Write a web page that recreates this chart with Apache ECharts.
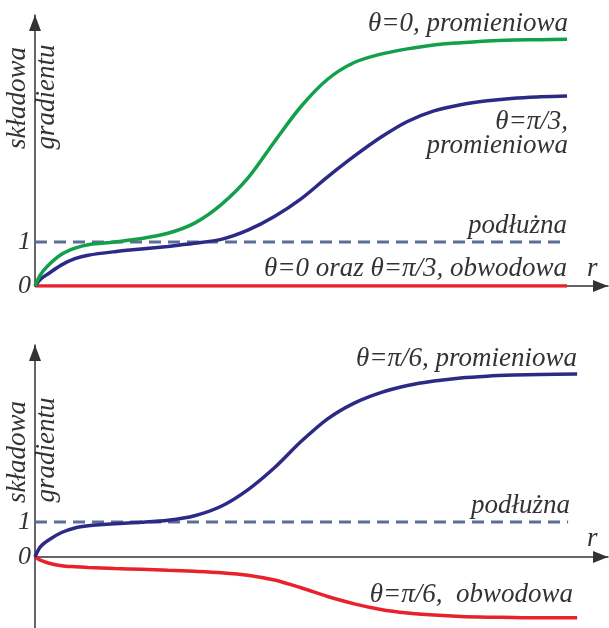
<!DOCTYPE html>
<html>
<head>
<meta charset="utf-8">
<script src="https://cdn.jsdelivr.net/npm/echarts@6/dist/echarts.min.js"></script>
<style>
html,body{margin:0;padding:0;background:#fff;}
#c{width:609px;height:628px;}
</style>
</head>
<body>
<div id="c"></div>
<script>
// ---- data ----
const rTop      = [0, 0.1, 0.25, 0.5, 0.75, 1, 1.5, 2, 2.5, 3, 3.5, 4, 4.5, 5, 5.5, 6, 6.5, 7, 7.5, 8, 8.5, 9, 9.5, 10];
const greenTop  = [0, 0.25, 0.47, 0.72, 0.86, 0.94, 1.00, 1.08, 1.20, 1.43, 1.85, 2.45, 3.28, 4.08, 4.70, 5.08, 5.27, 5.39, 5.48, 5.53, 5.57, 5.59, 5.60, 5.61];
const blueTop   = [0, 0.15, 0.28, 0.48, 0.62, 0.70, 0.78, 0.84, 0.90, 0.97, 1.06, 1.27, 1.58, 1.98, 2.48, 2.95, 3.38, 3.74, 3.98, 4.12, 4.21, 4.27, 4.30, 4.32];
const rRedTop   = [0, 10];
const redTop    = [0, 0];

const rBot      = [0, 0.1, 0.25, 0.5, 0.75, 1, 1.5, 2, 2.5, 3, 3.5, 4, 4.5, 5, 5.5, 6, 6.5, 7, 7.5, 8, 8.5, 9, 9.5, 10.19];
const blueBot   = [0, 0.29, 0.48, 0.70, 0.83, 0.89, 0.95, 0.99, 1.05, 1.18, 1.45, 1.92, 2.55, 3.30, 3.95, 4.40, 4.70, 4.90, 5.03, 5.12, 5.17, 5.20, 5.22, 5.23];
const redBot    = [0, -0.09, -0.17, -0.25, -0.28, -0.30, -0.33, -0.35, -0.38, -0.41, -0.45, -0.52, -0.66, -0.88, -1.13, -1.34, -1.50, -1.60, -1.66, -1.70, -1.72, -1.73, -1.74, -1.74];

const rDashTop  = [0, 10];
const rDashBot  = [0, 10.02];
const longitudinal = [1, 1];

const yTickValues = [0, 1];
const yTickLabels = ['0', '1'];

// ---- labels ----
const labelsTop = ['θ=0, promieniowa', 'θ=π/3,', 'promieniowa', 'podłużna', 'θ=0 oraz θ=π/3, obwodowa'];
const labelsBot = ['θ=π/6, promieniowa', 'podłużna', 'θ=π/6,  obwodowa'];
const axisTitle = ['składowa', 'gradientu'];
const xName = 'r';

const pairs = (xs, ys) => xs.map((x, i) => [x, ys[i]]);

const FONT = '"Liberation Serif", "Times New Roman", serif';
const FS = 27;
const TXT = '#333';
const AX = '#333';

function xAxisCfg(gi) {
  return {
    type: 'value', gridIndex: gi, min: 0, max: 10.77,
    axisLine: { show: true, onZero: true, lineStyle: { color: AX, width: 1.5 },
      symbol: ['none', 'triangle'], symbolSize: [12, 15], symbolOffset: [0, -7.5] },
    axisTick: { show: false }, axisLabel: { show: false }, splitLine: { show: false }
  };
}
function yAxisCfg(gi, min, max) {
  return {
    type: 'value', gridIndex: gi, min: min, max: max,
    axisLine: { show: true, onZero: true, lineStyle: { color: AX, width: 1.5 },
      symbol: ['none', 'triangle'], symbolSize: [12, 16], symbolOffset: [0, -8] },
    axisTick: { show: false },
    axisLabel: {
      show: true, customValues: yTickValues, margin: 4,
      formatter: v => { const i = yTickValues.indexOf(v); return i >= 0 ? yTickLabels[i] : ''; },
      fontFamily: FONT, fontStyle: 'italic', fontSize: 26, color: TXT
    },
    splitLine: { show: false }
  };
}
function line(xi, data, color, width, dash) {
  return {
    type: 'line', xAxisIndex: xi, yAxisIndex: xi, data: data, symbol: 'none',
    smooth: dash ? false : 0.3, silent: true,
    lineStyle: { color: color, width: width, type: dash || 'solid' }, z: dash ? 3 : 4
  };
}
function txt(s, x, y, align, rot) {
  return {
    type: 'text', x: x, y: y, rotation: rot || 0, silent: true,
    style: { text: s, fill: TXT, fontFamily: FONT, fontSize: FS, fontStyle: 'italic',
      align: align || 'right', verticalAlign: 'middle' }
  };
}

const GREEN = '#13a04a', BLUE = '#2c2a86', RED = '#e8212b', DASH = '#5a6e96';

const option = {
  animation: false,
  backgroundColor: '#fff',
  grid: [
    { left: 35, right: 1, top: 15, height: 271 },
    { left: 35, right: 1, top: 345, height: 283 }
  ],
  xAxis: [xAxisCfg(0), xAxisCfg(1)],
  yAxis: [yAxisCfg(0, 0, 6.16), yAxisCfg(1, -2.03, 6.06)],
  series: [
    line(0, pairs(rDashTop, longitudinal), DASH, 3, [12, 7]),
    line(0, pairs(rRedTop, redTop), RED, 3.5),
    line(0, pairs(rTop, blueTop), BLUE, 3.5),
    line(0, pairs(rTop, greenTop), GREEN, 3.5),
    line(1, pairs(rDashBot, longitudinal), DASH, 3, [12, 7]),
    line(1, pairs(rBot, redBot), RED, 3.5),
    line(1, pairs(rBot, blueBot), BLUE, 3.5)
  ],
  graphic: [
    txt(labelsTop[0], 568, 24),
    txt(labelsTop[1], 568, 122),
    txt(labelsTop[2], 568, 146),
    txt(labelsTop[3], 567, 226),
    txt(labelsTop[4], 567, 269),
    txt(xName, 587, 269, 'left'),
    txt(axisTitle[0], 18, 98, 'center', Math.PI / 2),
    txt(axisTitle[1], 47, 97, 'center', Math.PI / 2),
    txt(labelsBot[0], 577, 359),
    txt(labelsBot[1], 570, 506),
    txt(labelsBot[2], 573, 595),
    txt(xName, 587, 539, 'left'),
    txt(axisTitle[0], 18, 452, 'center', Math.PI / 2),
    txt(axisTitle[1], 47, 450, 'center', Math.PI / 2)
  ]
};

const chart = echarts.init(document.getElementById('c'), null, { renderer: 'canvas' });
chart.setOption(option);
</script>
</body>
</html>
